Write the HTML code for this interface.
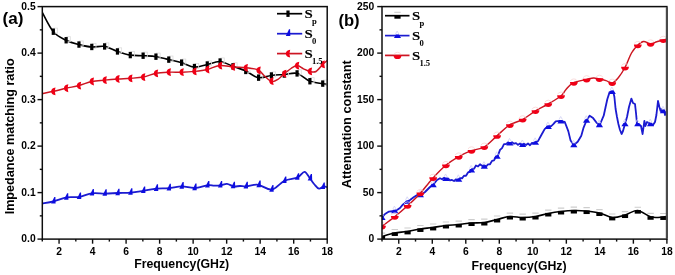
<!DOCTYPE html><html><head><meta charset="utf-8"><style>html,body{margin:0;padding:0;background:#fff;}svg{display:block;will-change:transform;}text{font-family:"Liberation Sans",sans-serif;font-weight:bold;fill:#000;}</style></head><body>
<svg width="675" height="275" viewBox="0 0 675 275">
<rect width="675" height="275" fill="#fff"/>
<defs><filter id="soft" x="-1%" y="-1%" width="102%" height="102%"><feGaussianBlur stdDeviation="0.3"/></filter></defs>
<defs><clipPath id="ca"><rect x="42.3" y="6.6" width="284.9" height="232.5"/></clipPath>
<clipPath id="cb"><rect x="382.0" y="6.6" width="284.9" height="232.5"/></clipPath></defs>
<g filter="url(#soft)">
<g><path d="M42.30 12.50 C44.13 15.70 49.27 27.03 53.30 31.70 C57.33 36.37 62.20 38.35 66.50 40.50 C70.80 42.65 74.85 43.52 79.10 44.60 C83.35 45.68 87.77 46.70 92.00 47.00 C96.23 47.30 100.23 45.65 104.50 46.40 C108.77 47.15 113.28 50.05 117.60 51.50 C121.92 52.95 126.13 54.40 130.40 55.10 C134.67 55.80 138.87 55.43 143.20 55.70 C147.53 55.97 152.15 56.05 156.40 56.70 C160.65 57.35 164.47 58.60 168.70 59.60 C172.93 60.60 177.53 61.45 181.80 62.70 C186.07 63.95 190.05 66.80 194.30 67.10 C198.55 67.40 203.02 65.43 207.30 64.50 C211.58 63.57 215.62 61.15 220.00 61.50 C224.38 61.85 229.35 65.05 233.60 66.60 C237.85 68.15 241.40 68.95 245.50 70.80 C249.60 72.65 253.90 76.92 258.20 77.70 C262.50 78.48 266.92 76.03 271.30 75.50 C275.68 74.97 280.17 74.85 284.50 74.50 C288.83 74.15 293.05 72.27 297.30 73.40 C301.55 74.53 305.77 79.60 310.00 81.30 C314.23 83.00 319.83 83.07 322.70 83.60 C325.57 84.13 326.45 84.35 327.20 84.50" fill="none" stroke="#000" stroke-width="1.60" stroke-linejoin="round" clip-path="url(#ca)"/><rect x="53.90" y="28.10" width="3.6" height="5.0" fill="none" stroke="#dcdcdc" stroke-width="0.8"/><rect x="66.73" y="36.65" width="3.6" height="5.0" fill="none" stroke="#dcdcdc" stroke-width="0.8"/><rect x="79.56" y="40.95" width="3.6" height="5.0" fill="none" stroke="#dcdcdc" stroke-width="0.8"/><rect x="92.39" y="43.36" width="3.6" height="5.0" fill="none" stroke="#dcdcdc" stroke-width="0.8"/><rect x="105.22" y="42.85" width="3.6" height="5.0" fill="none" stroke="#dcdcdc" stroke-width="0.8"/><rect x="118.05" y="47.84" width="3.6" height="5.0" fill="none" stroke="#dcdcdc" stroke-width="0.8"/><rect x="130.88" y="51.47" width="3.6" height="5.0" fill="none" stroke="#dcdcdc" stroke-width="0.8"/><rect x="143.71" y="52.10" width="3.6" height="5.0" fill="none" stroke="#dcdcdc" stroke-width="0.8"/><rect x="156.54" y="53.07" width="3.6" height="5.0" fill="none" stroke="#dcdcdc" stroke-width="0.8"/><rect x="169.37" y="56.02" width="3.6" height="5.0" fill="none" stroke="#dcdcdc" stroke-width="0.8"/><rect x="182.20" y="59.05" width="3.6" height="5.0" fill="none" stroke="#dcdcdc" stroke-width="0.8"/><rect x="195.03" y="63.47" width="3.6" height="5.0" fill="none" stroke="#dcdcdc" stroke-width="0.8"/><rect x="207.86" y="60.91" width="3.6" height="5.0" fill="none" stroke="#dcdcdc" stroke-width="0.8"/><rect x="220.69" y="57.93" width="3.6" height="5.0" fill="none" stroke="#dcdcdc" stroke-width="0.8"/><rect x="233.52" y="62.74" width="3.6" height="5.0" fill="none" stroke="#dcdcdc" stroke-width="0.8"/><rect x="246.35" y="67.34" width="3.6" height="5.0" fill="none" stroke="#dcdcdc" stroke-width="0.8"/><rect x="259.18" y="74.04" width="3.6" height="5.0" fill="none" stroke="#dcdcdc" stroke-width="0.8"/><rect x="272.01" y="71.89" width="3.6" height="5.0" fill="none" stroke="#dcdcdc" stroke-width="0.8"/><rect x="284.84" y="70.92" width="3.6" height="5.0" fill="none" stroke="#dcdcdc" stroke-width="0.8"/><rect x="297.67" y="69.82" width="3.6" height="5.0" fill="none" stroke="#dcdcdc" stroke-width="0.8"/><rect x="310.50" y="77.64" width="3.6" height="5.0" fill="none" stroke="#dcdcdc" stroke-width="0.8"/><rect x="323.33" y="80.01" width="3.6" height="5.0" fill="none" stroke="#dcdcdc" stroke-width="0.8"/><rect x="51.70" y="28.50" width="3.2" height="6.4" fill="#000"/><rect x="64.53" y="37.05" width="3.2" height="6.4" fill="#000"/><rect x="77.36" y="41.35" width="3.2" height="6.4" fill="#000"/><rect x="90.19" y="43.76" width="3.2" height="6.4" fill="#000"/><rect x="103.02" y="43.25" width="3.2" height="6.4" fill="#000"/><rect x="115.85" y="48.24" width="3.2" height="6.4" fill="#000"/><rect x="128.68" y="51.87" width="3.2" height="6.4" fill="#000"/><rect x="141.51" y="52.50" width="3.2" height="6.4" fill="#000"/><rect x="154.34" y="53.47" width="3.2" height="6.4" fill="#000"/><rect x="167.17" y="56.42" width="3.2" height="6.4" fill="#000"/><rect x="180.00" y="59.45" width="3.2" height="6.4" fill="#000"/><rect x="192.83" y="63.87" width="3.2" height="6.4" fill="#000"/><rect x="205.66" y="61.31" width="3.2" height="6.4" fill="#000"/><rect x="218.49" y="58.33" width="3.2" height="6.4" fill="#000"/><rect x="231.32" y="63.14" width="3.2" height="6.4" fill="#000"/><rect x="244.15" y="67.74" width="3.2" height="6.4" fill="#000"/><rect x="256.98" y="74.44" width="3.2" height="6.4" fill="#000"/><rect x="269.81" y="72.29" width="3.2" height="6.4" fill="#000"/><rect x="282.64" y="71.32" width="3.2" height="6.4" fill="#000"/><rect x="295.47" y="70.22" width="3.2" height="6.4" fill="#000"/><rect x="308.30" y="78.04" width="3.2" height="6.4" fill="#000"/><rect x="321.13" y="80.41" width="3.2" height="6.4" fill="#000"/><path d="M42.30 203.60 C44.18 203.22 49.50 202.35 53.60 201.30 C57.70 200.25 62.65 198.03 66.90 197.30 C71.15 196.57 74.88 197.57 79.10 196.90 C83.32 196.23 87.88 193.85 92.20 193.30 C96.52 192.75 100.70 193.65 105.00 193.60 C109.30 193.55 113.67 193.17 118.00 193.00 C122.33 192.83 126.75 192.97 131.00 192.60 C135.25 192.23 139.27 191.45 143.50 190.80 C147.73 190.15 152.20 189.13 156.40 188.70 C160.60 188.27 164.47 188.58 168.70 188.20 C172.93 187.82 177.50 186.43 181.80 186.40 C186.10 186.37 190.17 188.18 194.50 188.00 C198.83 187.82 204.55 185.70 207.80 185.30 C211.05 184.90 211.88 185.60 214.00 185.60 C216.12 185.60 218.33 185.60 220.50 185.30 C222.67 185.00 224.82 183.62 227.00 183.80 C229.18 183.98 231.43 186.03 233.60 186.40 C235.77 186.77 237.87 186.02 240.00 186.00 C242.13 185.98 243.37 186.50 246.40 186.30 C249.43 186.10 253.97 184.25 258.20 184.80 C262.43 185.35 267.42 190.28 271.80 189.60 C276.18 188.92 280.22 182.72 284.50 180.70 C288.78 178.68 294.17 178.98 297.50 177.50 C300.83 176.02 302.42 171.63 304.50 171.80 C306.58 171.97 308.33 176.38 310.00 178.50 C311.67 180.62 313.00 182.80 314.50 184.50 C316.00 186.20 317.48 188.38 319.00 188.70 C320.52 189.02 322.23 186.63 323.60 186.40 C324.97 186.17 326.60 187.15 327.20 187.30" fill="none" stroke="#1a1ad0" stroke-width="1.80" stroke-linejoin="round" clip-path="url(#ca)"/><path d="M54.30 196.96 L55.40 196.96 L55.60 203.56 L51.10 203.56 Z" fill="#1010e0"/><path d="M67.13 193.13 L68.23 193.13 L68.43 199.73 L63.93 199.73 Z" fill="#1010e0"/><path d="M79.96 192.50 L81.06 192.50 L81.26 199.10 L76.76 199.10 Z" fill="#1010e0"/><path d="M92.79 189.01 L93.89 189.01 L94.09 195.61 L89.59 195.61 Z" fill="#1010e0"/><path d="M105.62 189.19 L106.72 189.19 L106.92 195.79 L102.42 195.79 Z" fill="#1010e0"/><path d="M118.45 188.63 L119.55 188.63 L119.75 195.23 L115.25 195.23 Z" fill="#1010e0"/><path d="M131.28 188.22 L132.38 188.22 L132.58 194.82 L128.08 194.82 Z" fill="#1010e0"/><path d="M144.11 186.46 L145.21 186.46 L145.41 193.06 L140.91 193.06 Z" fill="#1010e0"/><path d="M156.94 184.37 L158.04 184.37 L158.24 190.97 L153.74 190.97 Z" fill="#1010e0"/><path d="M169.77 183.79 L170.87 183.79 L171.07 190.39 L166.57 190.39 Z" fill="#1010e0"/><path d="M182.60 182.03 L183.70 182.03 L183.90 188.63 L179.40 188.63 Z" fill="#1010e0"/><path d="M195.43 183.59 L196.53 183.59 L196.73 190.19 L192.23 190.19 Z" fill="#1010e0"/><path d="M208.26 181.01 L209.36 181.01 L209.56 187.61 L205.06 187.61 Z" fill="#1010e0"/><path d="M221.09 180.92 L222.19 180.92 L222.39 187.52 L217.89 187.52 Z" fill="#1010e0"/><path d="M233.92 181.73 L235.02 181.73 L235.22 188.33 L230.72 188.33 Z" fill="#1010e0"/><path d="M246.75 181.87 L247.85 181.87 L248.05 188.47 L243.55 188.47 Z" fill="#1010e0"/><path d="M259.58 180.53 L260.68 180.53 L260.88 187.13 L256.38 187.13 Z" fill="#1010e0"/><path d="M272.41 185.06 L273.51 185.06 L273.71 191.66 L269.21 191.66 Z" fill="#1010e0"/><path d="M285.24 176.48 L286.34 176.48 L286.54 183.08 L282.04 183.08 Z" fill="#1010e0"/><path d="M298.07 173.21 L299.17 173.21 L299.37 179.81 L294.87 179.81 Z" fill="#1010e0"/><path d="M310.90 173.98 L312.00 173.98 L312.20 180.58 L307.70 180.58 Z" fill="#1010e0"/><path d="M323.73 182.44 L324.83 182.44 L325.03 189.03 L320.53 189.03 Z" fill="#1010e0"/><path d="M42.30 93.60 C44.18 93.22 49.58 92.20 53.60 91.30 C57.62 90.40 62.15 89.17 66.40 88.20 C70.65 87.23 74.87 86.62 79.10 85.50 C83.33 84.38 87.57 82.40 91.80 81.50 C96.03 80.60 100.20 80.52 104.50 80.10 C108.80 79.68 113.28 79.30 117.60 79.00 C121.92 78.70 126.10 78.63 130.40 78.30 C134.70 77.97 139.13 77.83 143.40 77.00 C147.67 76.17 151.78 74.10 156.00 73.30 C160.22 72.50 164.40 72.38 168.70 72.20 C173.00 72.02 177.53 72.33 181.80 72.20 C186.07 72.07 190.05 71.85 194.30 71.40 C198.55 70.95 203.10 70.48 207.30 69.50 C211.50 68.52 215.12 65.92 219.50 65.50 C223.88 65.08 229.18 66.62 233.60 67.00 C238.02 67.38 241.90 67.30 246.00 67.80 C250.10 68.30 255.03 68.55 258.20 70.00 C261.37 71.45 262.70 74.57 265.00 76.50 C267.30 78.43 269.75 81.18 272.00 81.60 C274.25 82.02 276.42 80.35 278.50 79.00 C280.58 77.65 282.42 75.25 284.50 73.50 C286.58 71.75 288.87 69.83 291.00 68.50 C293.13 67.17 295.22 65.45 297.30 65.50 C299.38 65.55 301.38 67.80 303.50 68.80 C305.62 69.80 307.92 71.05 310.00 71.50 C312.08 71.95 313.88 72.67 316.00 71.50 C318.12 70.33 320.83 66.33 322.70 64.50 C324.57 62.67 326.45 61.17 327.20 60.50" fill="none" stroke="#cc1420" stroke-width="1.45" stroke-linejoin="round" clip-path="url(#ca)"/><path d="M55.50 87.46 C49.70 87.96 49.70 94.76 55.50 95.26 Q54.00 91.36 55.50 87.46 Z" fill="#f00018"/><path d="M68.33 84.37 C62.53 84.87 62.53 91.67 68.33 92.17 Q66.83 88.27 68.33 84.37 Z" fill="#f00018"/><path d="M81.16 81.63 C75.36 82.13 75.36 88.93 81.16 89.43 Q79.66 85.53 81.16 81.63 Z" fill="#f00018"/><path d="M93.99 77.60 C88.19 78.10 88.19 84.90 93.99 85.40 Q92.49 81.50 93.99 77.60 Z" fill="#f00018"/><path d="M106.82 76.19 C101.02 76.69 101.02 83.49 106.82 83.99 Q105.32 80.09 106.82 76.19 Z" fill="#f00018"/><path d="M119.65 75.11 C113.85 75.61 113.85 82.41 119.65 82.91 Q118.15 79.01 119.65 75.11 Z" fill="#f00018"/><path d="M132.48 74.41 C126.68 74.91 126.68 81.71 132.48 82.21 Q130.98 78.31 132.48 74.41 Z" fill="#f00018"/><path d="M145.31 73.13 C139.51 73.63 139.51 80.43 145.31 80.93 Q143.81 77.03 145.31 73.13 Z" fill="#f00018"/><path d="M158.14 69.42 C152.34 69.92 152.34 76.72 158.14 77.22 Q156.64 73.32 158.14 69.42 Z" fill="#f00018"/><path d="M170.97 68.30 C165.17 68.80 165.17 75.60 170.97 76.10 Q169.47 72.20 170.97 68.30 Z" fill="#f00018"/><path d="M183.80 68.30 C178.00 68.80 178.00 75.60 183.80 76.10 Q182.30 72.20 183.80 68.30 Z" fill="#f00018"/><path d="M196.63 67.48 C190.83 67.98 190.83 74.78 196.63 75.28 Q195.13 71.38 196.63 67.48 Z" fill="#f00018"/><path d="M209.46 65.61 C203.66 66.11 203.66 72.91 209.46 73.41 Q207.96 69.51 209.46 65.61 Z" fill="#f00018"/><path d="M222.29 61.66 C216.49 62.16 216.49 68.96 222.29 69.46 Q220.79 65.56 222.29 61.66 Z" fill="#f00018"/><path d="M235.12 63.03 C229.32 63.53 229.32 70.33 235.12 70.83 Q233.62 66.93 235.12 63.03 Z" fill="#f00018"/><path d="M247.95 63.88 C242.15 64.38 242.15 71.18 247.95 71.68 Q246.45 67.78 247.95 63.88 Z" fill="#f00018"/><path d="M260.78 66.46 C254.98 66.96 254.98 73.76 260.78 74.26 Q259.28 70.36 260.78 66.46 Z" fill="#f00018"/><path d="M273.61 77.27 C267.81 77.77 267.81 84.57 273.61 85.07 Q272.11 81.17 273.61 77.27 Z" fill="#f00018"/><path d="M286.44 69.84 C280.64 70.34 280.64 77.14 286.44 77.64 Q284.94 73.74 286.44 69.84 Z" fill="#f00018"/><path d="M299.27 61.71 C293.47 62.21 293.47 69.01 299.27 69.51 Q297.77 65.61 299.27 61.71 Z" fill="#f00018"/><path d="M312.10 67.56 C306.30 68.06 306.30 74.86 312.10 75.36 Q310.60 71.46 312.10 67.56 Z" fill="#f00018"/><path d="M324.93 60.57 C319.13 61.07 319.13 67.87 324.93 68.37 Q323.43 64.47 324.93 60.57 Z" fill="#f00018"/></g>
<g clip-path="url(#cb)"><path d="M382.00 236.50 C384.07 235.92 390.23 233.83 394.40 233.00 C398.57 232.17 402.73 232.17 407.00 231.50 C411.27 230.83 415.72 229.67 420.00 229.00 C424.28 228.33 428.45 228.08 432.70 227.50 C436.95 226.92 441.18 226.00 445.50 225.50 C449.82 225.00 454.27 224.92 458.60 224.50 C462.93 224.08 467.20 223.33 471.50 223.00 C475.80 222.67 480.15 223.08 484.40 222.50 C488.65 221.92 492.77 220.50 497.00 219.50 C501.23 218.50 505.52 216.83 509.80 216.50 C514.08 216.17 518.42 217.50 522.70 217.50 C526.98 217.50 531.25 217.17 535.50 216.50 C539.75 215.83 543.98 214.33 548.20 213.50 C552.42 212.67 556.50 212.00 560.80 211.50 C565.10 211.00 569.73 210.58 574.00 210.50 C578.27 210.42 582.15 210.58 586.40 211.00 C590.65 211.42 595.15 211.92 599.50 213.00 C603.85 214.08 608.23 217.17 612.50 217.50 C616.77 217.83 620.93 216.17 625.10 215.00 C629.27 213.83 633.17 210.17 637.50 210.50 C641.83 210.83 646.83 215.92 651.10 217.00 C655.37 218.08 660.47 217.08 663.10 217.00 C665.73 216.92 666.27 216.58 666.90 216.50" fill="none" stroke="#000" stroke-width="1.60" stroke-linejoin="round" clip-path="url(#cb)"/><line x1="378.80" y1="233.10" x2="385.20" y2="233.10" stroke="#cdcdcd" stroke-width="1.1"/><rect x="378.90" y="235.90" width="6.2" height="3.6" fill="#000"/><line x1="391.59" y1="229.55" x2="397.99" y2="229.55" stroke="#cdcdcd" stroke-width="1.1"/><rect x="391.69" y="232.35" width="6.2" height="3.6" fill="#000"/><line x1="404.38" y1="227.99" x2="410.78" y2="227.99" stroke="#cdcdcd" stroke-width="1.1"/><rect x="404.48" y="230.79" width="6.2" height="3.6" fill="#000"/><line x1="417.17" y1="225.56" x2="423.57" y2="225.56" stroke="#cdcdcd" stroke-width="1.1"/><rect x="417.27" y="228.36" width="6.2" height="3.6" fill="#000"/><line x1="429.96" y1="224.03" x2="436.36" y2="224.03" stroke="#cdcdcd" stroke-width="1.1"/><rect x="430.06" y="226.83" width="6.2" height="3.6" fill="#000"/><line x1="442.75" y1="222.07" x2="449.15" y2="222.07" stroke="#cdcdcd" stroke-width="1.1"/><rect x="442.85" y="224.87" width="6.2" height="3.6" fill="#000"/><line x1="455.54" y1="221.08" x2="461.94" y2="221.08" stroke="#cdcdcd" stroke-width="1.1"/><rect x="455.64" y="223.88" width="6.2" height="3.6" fill="#000"/><line x1="468.33" y1="219.60" x2="474.73" y2="219.60" stroke="#cdcdcd" stroke-width="1.1"/><rect x="468.43" y="222.40" width="6.2" height="3.6" fill="#000"/><line x1="481.12" y1="219.10" x2="487.52" y2="219.10" stroke="#cdcdcd" stroke-width="1.1"/><rect x="481.22" y="221.90" width="6.2" height="3.6" fill="#000"/><line x1="493.91" y1="216.07" x2="500.31" y2="216.07" stroke="#cdcdcd" stroke-width="1.1"/><rect x="494.01" y="218.87" width="6.2" height="3.6" fill="#000"/><line x1="506.70" y1="213.11" x2="513.10" y2="213.11" stroke="#cdcdcd" stroke-width="1.1"/><rect x="506.80" y="215.91" width="6.2" height="3.6" fill="#000"/><line x1="519.49" y1="214.10" x2="525.89" y2="214.10" stroke="#cdcdcd" stroke-width="1.1"/><rect x="519.59" y="216.90" width="6.2" height="3.6" fill="#000"/><line x1="532.28" y1="213.10" x2="538.68" y2="213.10" stroke="#cdcdcd" stroke-width="1.1"/><rect x="532.38" y="215.90" width="6.2" height="3.6" fill="#000"/><line x1="545.07" y1="210.09" x2="551.47" y2="210.09" stroke="#cdcdcd" stroke-width="1.1"/><rect x="545.17" y="212.89" width="6.2" height="3.6" fill="#000"/><line x1="557.86" y1="208.08" x2="564.26" y2="208.08" stroke="#cdcdcd" stroke-width="1.1"/><rect x="557.96" y="210.88" width="6.2" height="3.6" fill="#000"/><line x1="570.65" y1="207.11" x2="577.05" y2="207.11" stroke="#cdcdcd" stroke-width="1.1"/><rect x="570.75" y="209.91" width="6.2" height="3.6" fill="#000"/><line x1="583.44" y1="207.64" x2="589.84" y2="207.64" stroke="#cdcdcd" stroke-width="1.1"/><rect x="583.54" y="210.44" width="6.2" height="3.6" fill="#000"/><line x1="596.23" y1="209.59" x2="602.63" y2="209.59" stroke="#cdcdcd" stroke-width="1.1"/><rect x="596.33" y="212.39" width="6.2" height="3.6" fill="#000"/><line x1="609.02" y1="214.00" x2="615.42" y2="214.00" stroke="#cdcdcd" stroke-width="1.1"/><rect x="609.12" y="216.80" width="6.2" height="3.6" fill="#000"/><line x1="621.81" y1="211.62" x2="628.21" y2="211.62" stroke="#cdcdcd" stroke-width="1.1"/><rect x="621.91" y="214.42" width="6.2" height="3.6" fill="#000"/><line x1="634.60" y1="207.24" x2="641.00" y2="207.24" stroke="#cdcdcd" stroke-width="1.1"/><rect x="634.70" y="210.04" width="6.2" height="3.6" fill="#000"/><line x1="647.39" y1="213.36" x2="653.79" y2="213.36" stroke="#cdcdcd" stroke-width="1.1"/><rect x="647.49" y="216.16" width="6.2" height="3.6" fill="#000"/><line x1="660.18" y1="213.56" x2="666.58" y2="213.56" stroke="#cdcdcd" stroke-width="1.1"/><rect x="660.28" y="216.36" width="6.2" height="3.6" fill="#000"/><path d="M382.00 217.50 L385.00 214.00 L389.00 211.60 L394.00 211.00 L397.00 210.00 L400.00 208.00 L403.00 204.40 L406.50 202.00 L410.00 200.00 L414.00 197.00 L418.00 194.40 L421.00 195.00 L425.00 192.00 L430.00 187.00 L433.00 185.00 L437.00 180.00 L440.00 178.25 L442.00 179.24 L444.00 177.83 L446.00 179.35 L448.00 178.46 L450.00 180.43 L452.00 179.96 L454.00 181.06 L456.00 179.30 L458.00 180.28 L460.00 177.83 L462.00 178.35 L464.00 175.70 L466.00 175.79 L468.00 172.47 L470.00 171.99 L472.00 168.87 L474.00 168.74 L476.00 165.51 L478.00 166.46 L480.00 164.28 L482.00 165.82 L484.00 165.28 L486.00 166.54 L488.00 164.46 L490.00 164.25 L492.00 160.85 L494.00 160.41 L496.00 156.90 L498.00 155.51 L500.00 149.90 L502.00 148.05 L504.00 144.14 L506.00 144.13 L508.00 142.30 L510.00 143.88 L512.00 142.14 L514.00 143.68 L516.00 143.07 L518.00 144.82 L520.00 143.50 L522.00 145.27 L524.00 143.72 L526.00 144.99 L528.00 143.48 L530.00 145.22 L532.00 142.82 L534.00 143.34 L536.00 141.56 L538.00 141.07 L541.90 134.00 L544.80 128.90 L547.70 126.70 L551.40 126.00 L553.50 123.80 L555.70 121.30 L560.10 120.90 L564.70 121.80 L568.30 131.10 L570.60 140.60 L573.70 145.00 L577.70 141.70 L581.30 135.80 L583.60 127.60 L586.50 120.50 L589.60 115.70 L593.10 118.10 L596.60 122.80 L599.70 125.00 L603.70 115.70 L607.30 99.20 L609.60 92.10 L613.20 91.40 L614.40 97.00 L615.60 109.00 L617.00 117.00 L618.40 124.00 L620.00 130.00 L621.60 134.00 L623.00 131.00 L625.00 124.00 L627.00 117.00 L629.00 107.00 L631.40 98.60 L633.00 103.00 L635.00 104.00 L636.00 113.00 L637.00 123.50 L639.00 124.50 L641.00 126.00 L642.60 134.00 L643.40 128.00 L644.40 121.00 L645.40 126.00 L647.00 122.00 L649.00 123.00 L651.00 124.00 L653.00 125.00 L655.00 122.00 L656.40 115.00 L658.00 101.00 L659.40 107.00 L660.60 111.00 L661.40 109.00 L662.60 112.00 L664.00 110.00 L665.00 115.00 L666.90 113.00" fill="none" stroke="#1a1ad0" stroke-width="1.80" stroke-linejoin="round" clip-path="url(#cb)"/><path d="M380.00 216.00 L381.60 212.90 L383.40 216.00" fill="none" stroke="#d0d0f4" stroke-width="0.8"/><path d="M378.40 219.90 L380.40 216.50 L383.40 216.50 L385.60 219.90 Z" fill="#1010e0"/><path d="M392.79 209.24 L394.39 206.14 L396.19 209.24" fill="none" stroke="#d0d0f4" stroke-width="0.8"/><path d="M391.19 213.14 L393.19 209.74 L396.19 209.74 L398.39 213.14 Z" fill="#1010e0"/><path d="M405.58 199.88 L407.18 196.78 L408.98 199.88" fill="none" stroke="#d0d0f4" stroke-width="0.8"/><path d="M403.98 203.78 L405.98 200.38 L408.98 200.38 L411.18 203.78 Z" fill="#1010e0"/><path d="M418.37 193.37 L419.97 190.27 L421.77 193.37" fill="none" stroke="#d0d0f4" stroke-width="0.8"/><path d="M416.77 197.27 L418.77 193.87 L421.77 193.87 L423.97 197.27 Z" fill="#1010e0"/><path d="M431.16 183.30 L432.76 180.20 L434.56 183.30" fill="none" stroke="#d0d0f4" stroke-width="0.8"/><path d="M429.56 187.20 L431.56 183.80 L434.56 183.80 L436.76 187.20 Z" fill="#1010e0"/><path d="M443.95 177.08 L445.55 173.98 L447.35 177.08" fill="none" stroke="#d0d0f4" stroke-width="0.8"/><path d="M442.35 180.98 L444.35 177.58 L447.35 177.58 L449.55 180.98 Z" fill="#1010e0"/><path d="M456.74 177.91 L458.34 174.81 L460.14 177.91" fill="none" stroke="#d0d0f4" stroke-width="0.8"/><path d="M455.14 181.81 L457.14 178.41 L460.14 178.41 L462.34 181.81 Z" fill="#1010e0"/><path d="M469.53 168.55 L471.13 165.45 L472.93 168.55" fill="none" stroke="#d0d0f4" stroke-width="0.8"/><path d="M467.93 172.45 L469.93 169.05 L472.93 169.05 L475.13 172.45 Z" fill="#1010e0"/><path d="M482.32 164.73 L483.92 161.63 L485.72 164.73" fill="none" stroke="#d0d0f4" stroke-width="0.8"/><path d="M480.72 168.63 L482.72 165.23 L485.72 165.23 L487.92 168.63 Z" fill="#1010e0"/><path d="M495.11 154.89 L496.71 151.79 L498.51 154.89" fill="none" stroke="#d0d0f4" stroke-width="0.8"/><path d="M493.51 158.79 L495.51 155.39 L498.51 155.39 L500.71 158.79 Z" fill="#1010e0"/><path d="M507.90 141.50 L509.50 138.40 L511.30 141.50" fill="none" stroke="#d0d0f4" stroke-width="0.8"/><path d="M506.30 145.40 L508.30 142.00 L511.30 142.00 L513.50 145.40 Z" fill="#1010e0"/><path d="M520.69 143.07 L522.29 139.97 L524.09 143.07" fill="none" stroke="#d0d0f4" stroke-width="0.8"/><path d="M519.09 146.97 L521.09 143.57 L524.09 143.57 L526.29 146.97 Z" fill="#1010e0"/><path d="M533.48 140.89 L535.08 137.79 L536.88 140.89" fill="none" stroke="#d0d0f4" stroke-width="0.8"/><path d="M531.88 144.79 L533.88 141.39 L536.88 141.39 L539.08 144.79 Z" fill="#1010e0"/><path d="M546.27 125.09 L547.87 121.99 L549.67 125.09" fill="none" stroke="#d0d0f4" stroke-width="0.8"/><path d="M544.67 128.99 L546.67 125.59 L549.67 125.59 L551.87 128.99 Z" fill="#1010e0"/><path d="M559.06 119.59 L560.66 116.49 L562.46 119.59" fill="none" stroke="#d0d0f4" stroke-width="0.8"/><path d="M557.46 123.49 L559.46 120.09 L562.46 120.09 L564.66 123.49 Z" fill="#1010e0"/><path d="M571.85 143.38 L573.45 140.28 L575.25 143.38" fill="none" stroke="#d0d0f4" stroke-width="0.8"/><path d="M570.25 147.28 L572.25 143.88 L575.25 143.88 L577.45 147.28 Z" fill="#1010e0"/><path d="M584.64 118.78 L586.24 115.68 L588.04 118.78" fill="none" stroke="#d0d0f4" stroke-width="0.8"/><path d="M583.04 122.68 L585.04 119.28 L588.04 119.28 L590.24 122.68 Z" fill="#1010e0"/><path d="M597.43 123.31 L599.03 120.21 L600.83 123.31" fill="none" stroke="#d0d0f4" stroke-width="0.8"/><path d="M595.83 127.21 L597.83 123.81 L600.83 123.81 L603.03 127.21 Z" fill="#1010e0"/><path d="M610.22 90.09 L611.82 86.99 L613.62 90.09" fill="none" stroke="#d0d0f4" stroke-width="0.8"/><path d="M608.62 93.99 L610.62 90.59 L613.62 90.59 L615.82 93.99 Z" fill="#1010e0"/><path d="M623.01 122.47 L624.61 119.37 L626.41 122.47" fill="none" stroke="#d0d0f4" stroke-width="0.8"/><path d="M621.41 126.37 L623.41 122.97 L626.41 122.97 L628.61 126.37 Z" fill="#1010e0"/><path d="M635.80 122.40 L637.40 119.30 L639.20 122.40" fill="none" stroke="#d0d0f4" stroke-width="0.8"/><path d="M634.20 126.30 L636.20 122.90 L639.20 122.90 L641.40 126.30 Z" fill="#1010e0"/><path d="M648.59 122.29 L650.19 119.19 L651.99 122.29" fill="none" stroke="#d0d0f4" stroke-width="0.8"/><path d="M646.99 126.19 L648.99 122.79 L651.99 122.79 L654.19 126.19 Z" fill="#1010e0"/><path d="M661.38 109.39 L662.98 106.29 L664.78 109.39" fill="none" stroke="#d0d0f4" stroke-width="0.8"/><path d="M659.78 113.29 L661.78 109.89 L664.78 109.89 L666.98 113.29 Z" fill="#1010e0"/><path d="M382.00 226.30 C384.05 224.75 390.13 220.35 394.30 217.00 C398.47 213.65 402.80 210.00 407.00 206.20 C411.20 202.40 415.30 198.75 419.50 194.20 C423.70 189.65 427.82 183.72 432.20 178.90 C436.58 174.08 441.37 169.02 445.80 165.30 C450.23 161.58 454.55 159.05 458.80 156.60 C463.05 154.15 467.10 152.18 471.30 150.60 C475.50 149.02 479.77 149.52 484.00 147.10 C488.23 144.68 492.47 139.78 496.70 136.10 C500.93 132.42 505.10 127.75 509.40 125.00 C513.70 122.25 518.15 121.95 522.50 119.60 C526.85 117.25 531.22 113.50 535.50 110.90 C539.78 108.30 543.97 106.48 548.20 104.00 C552.43 101.52 557.93 98.42 560.90 96.00 C563.87 93.58 563.95 91.70 566.00 89.50 C568.05 87.30 569.75 84.48 573.20 82.80 C576.65 81.12 583.32 80.20 586.70 79.40 C590.08 78.60 591.32 78.07 593.50 78.00 C595.68 77.93 597.72 78.57 599.80 79.00 C601.88 79.43 603.93 79.95 606.00 80.60 C608.07 81.25 610.12 83.42 612.20 82.90 C614.28 82.38 616.33 80.15 618.50 77.50 C620.67 74.85 623.03 71.08 625.20 67.00 C627.37 62.92 629.42 56.63 631.50 53.00 C633.58 49.37 635.70 47.12 637.70 45.20 C639.70 43.28 641.37 41.77 643.50 41.50 C645.63 41.23 648.28 43.55 650.50 43.60 C652.72 43.65 654.68 42.40 656.80 41.80 C658.92 41.20 661.52 40.45 663.20 40.00 C664.88 39.55 666.28 39.25 666.90 39.10" fill="none" stroke="#cc1420" stroke-width="1.45" stroke-linejoin="round" clip-path="url(#cb)"/><path d="M378.60 224.70 A3.6 3.2 0 0 1 385.40 224.70" fill="none" stroke="#f8d4d4" stroke-width="0.8"/><path d="M378.10 225.70 A3.9 3.7 0 0 0 385.90 225.70 Z" fill="#f00018"/><path d="M391.39 214.98 A3.6 3.2 0 0 1 398.19 214.98" fill="none" stroke="#f8d4d4" stroke-width="0.8"/><path d="M390.89 215.98 A3.9 3.7 0 0 0 398.69 215.98 Z" fill="#f00018"/><path d="M404.18 204.04 A3.6 3.2 0 0 1 410.98 204.04" fill="none" stroke="#f8d4d4" stroke-width="0.8"/><path d="M403.68 205.04 A3.9 3.7 0 0 0 411.48 205.04 Z" fill="#f00018"/><path d="M416.97 191.55 A3.6 3.2 0 0 1 423.77 191.55" fill="none" stroke="#f8d4d4" stroke-width="0.8"/><path d="M416.47 192.55 A3.9 3.7 0 0 0 424.27 192.55 Z" fill="#f00018"/><path d="M429.76 176.34 A3.6 3.2 0 0 1 436.56 176.34" fill="none" stroke="#f8d4d4" stroke-width="0.8"/><path d="M429.26 177.34 A3.9 3.7 0 0 0 437.06 177.34 Z" fill="#f00018"/><path d="M442.55 163.60 A3.6 3.2 0 0 1 449.35 163.60" fill="none" stroke="#f8d4d4" stroke-width="0.8"/><path d="M442.05 164.60 A3.9 3.7 0 0 0 449.85 164.60 Z" fill="#f00018"/><path d="M455.34 155.04 A3.6 3.2 0 0 1 462.14 155.04" fill="none" stroke="#f8d4d4" stroke-width="0.8"/><path d="M454.84 156.04 A3.9 3.7 0 0 0 462.64 156.04 Z" fill="#f00018"/><path d="M468.13 148.94 A3.6 3.2 0 0 1 474.93 148.94" fill="none" stroke="#f8d4d4" stroke-width="0.8"/><path d="M467.63 149.94 A3.9 3.7 0 0 0 475.43 149.94 Z" fill="#f00018"/><path d="M480.92 145.22 A3.6 3.2 0 0 1 487.72 145.22" fill="none" stroke="#f8d4d4" stroke-width="0.8"/><path d="M480.42 146.22 A3.9 3.7 0 0 0 488.22 146.22 Z" fill="#f00018"/><path d="M493.71 134.14 A3.6 3.2 0 0 1 500.51 134.14" fill="none" stroke="#f8d4d4" stroke-width="0.8"/><path d="M493.21 135.14 A3.9 3.7 0 0 0 501.01 135.14 Z" fill="#f00018"/><path d="M506.50 123.19 A3.6 3.2 0 0 1 513.30 123.19" fill="none" stroke="#f8d4d4" stroke-width="0.8"/><path d="M506.00 124.19 A3.9 3.7 0 0 0 513.80 124.19 Z" fill="#f00018"/><path d="M519.29 117.87 A3.6 3.2 0 0 1 526.09 117.87" fill="none" stroke="#f8d4d4" stroke-width="0.8"/><path d="M518.79 118.87 A3.9 3.7 0 0 0 526.59 118.87 Z" fill="#f00018"/><path d="M532.08 109.31 A3.6 3.2 0 0 1 538.88 109.31" fill="none" stroke="#f8d4d4" stroke-width="0.8"/><path d="M531.58 110.31 A3.9 3.7 0 0 0 539.38 110.31 Z" fill="#f00018"/><path d="M544.87 102.36 A3.6 3.2 0 0 1 551.67 102.36" fill="none" stroke="#f8d4d4" stroke-width="0.8"/><path d="M544.37 103.36 A3.9 3.7 0 0 0 552.17 103.36 Z" fill="#f00018"/><path d="M557.66 94.20 A3.6 3.2 0 0 1 564.46 94.20" fill="none" stroke="#f8d4d4" stroke-width="0.8"/><path d="M557.16 95.20 A3.9 3.7 0 0 0 564.96 95.20 Z" fill="#f00018"/><path d="M570.45 81.04 A3.6 3.2 0 0 1 577.25 81.04" fill="none" stroke="#f8d4d4" stroke-width="0.8"/><path d="M569.95 82.04 A3.9 3.7 0 0 0 577.75 82.04 Z" fill="#f00018"/><path d="M583.24 77.82 A3.6 3.2 0 0 1 590.04 77.82" fill="none" stroke="#f8d4d4" stroke-width="0.8"/><path d="M582.74 78.82 A3.9 3.7 0 0 0 590.54 78.82 Z" fill="#f00018"/><path d="M596.03 77.34 A3.6 3.2 0 0 1 602.83 77.34" fill="none" stroke="#f8d4d4" stroke-width="0.8"/><path d="M595.53 78.34 A3.9 3.7 0 0 0 603.33 78.34 Z" fill="#f00018"/><path d="M608.82 81.28 A3.6 3.2 0 0 1 615.62 81.28" fill="none" stroke="#f8d4d4" stroke-width="0.8"/><path d="M608.32 82.28 A3.9 3.7 0 0 0 616.12 82.28 Z" fill="#f00018"/><path d="M621.61 65.70 A3.6 3.2 0 0 1 628.41 65.70" fill="none" stroke="#f8d4d4" stroke-width="0.8"/><path d="M621.11 66.70 A3.9 3.7 0 0 0 628.91 66.70 Z" fill="#f00018"/><path d="M634.40 43.54 A3.6 3.2 0 0 1 641.20 43.54" fill="none" stroke="#f8d4d4" stroke-width="0.8"/><path d="M633.90 44.54 A3.9 3.7 0 0 0 641.70 44.54 Z" fill="#f00018"/><path d="M647.19 41.97 A3.6 3.2 0 0 1 653.99 41.97" fill="none" stroke="#f8d4d4" stroke-width="0.8"/><path d="M646.69 42.97 A3.9 3.7 0 0 0 654.49 42.97 Z" fill="#f00018"/><path d="M659.98 38.36 A3.6 3.2 0 0 1 666.78 38.36" fill="none" stroke="#f8d4d4" stroke-width="0.8"/><path d="M659.48 39.36 A3.9 3.7 0 0 0 667.28 39.36 Z" fill="#f00018"/></g>
<rect x="42.30" y="6.60" width="284.90" height="232.50" fill="none" stroke="#111" stroke-width="1.5"/><line x1="42.30" y1="239.10" x2="42.30" y2="241.60" stroke="#111" stroke-width="1.4"/><line x1="59.06" y1="239.10" x2="59.06" y2="243.70" stroke="#111" stroke-width="1.4"/><text x="59.06" y="255.00" font-size="10.3" text-anchor="middle">2</text><line x1="75.82" y1="239.10" x2="75.82" y2="241.60" stroke="#111" stroke-width="1.4"/><line x1="92.58" y1="239.10" x2="92.58" y2="243.70" stroke="#111" stroke-width="1.4"/><text x="92.58" y="255.00" font-size="10.3" text-anchor="middle">4</text><line x1="109.34" y1="239.10" x2="109.34" y2="241.60" stroke="#111" stroke-width="1.4"/><line x1="126.09" y1="239.10" x2="126.09" y2="243.70" stroke="#111" stroke-width="1.4"/><text x="126.09" y="255.00" font-size="10.3" text-anchor="middle">6</text><line x1="142.85" y1="239.10" x2="142.85" y2="241.60" stroke="#111" stroke-width="1.4"/><line x1="159.61" y1="239.10" x2="159.61" y2="243.70" stroke="#111" stroke-width="1.4"/><text x="159.61" y="255.00" font-size="10.3" text-anchor="middle">8</text><line x1="176.37" y1="239.10" x2="176.37" y2="241.60" stroke="#111" stroke-width="1.4"/><line x1="193.13" y1="239.10" x2="193.13" y2="243.70" stroke="#111" stroke-width="1.4"/><text x="193.13" y="255.00" font-size="10.3" text-anchor="middle">10</text><line x1="209.89" y1="239.10" x2="209.89" y2="241.60" stroke="#111" stroke-width="1.4"/><line x1="226.65" y1="239.10" x2="226.65" y2="243.70" stroke="#111" stroke-width="1.4"/><text x="226.65" y="255.00" font-size="10.3" text-anchor="middle">12</text><line x1="243.41" y1="239.10" x2="243.41" y2="241.60" stroke="#111" stroke-width="1.4"/><line x1="260.16" y1="239.10" x2="260.16" y2="243.70" stroke="#111" stroke-width="1.4"/><text x="260.16" y="255.00" font-size="10.3" text-anchor="middle">14</text><line x1="276.92" y1="239.10" x2="276.92" y2="241.60" stroke="#111" stroke-width="1.4"/><line x1="293.68" y1="239.10" x2="293.68" y2="243.70" stroke="#111" stroke-width="1.4"/><text x="293.68" y="255.00" font-size="10.3" text-anchor="middle">16</text><line x1="310.44" y1="239.10" x2="310.44" y2="241.60" stroke="#111" stroke-width="1.4"/><line x1="327.20" y1="239.10" x2="327.20" y2="243.70" stroke="#111" stroke-width="1.4"/><text x="327.20" y="255.00" font-size="10.3" text-anchor="middle">18</text><line x1="37.50" y1="239.10" x2="42.30" y2="239.10" stroke="#111" stroke-width="1.4"/><text x="35.70" y="242.40" font-size="10.3" text-anchor="end">0.0</text><line x1="39.80" y1="215.85" x2="42.30" y2="215.85" stroke="#111" stroke-width="1.4"/><line x1="37.50" y1="192.60" x2="42.30" y2="192.60" stroke="#111" stroke-width="1.4"/><text x="35.70" y="195.90" font-size="10.3" text-anchor="end">0.1</text><line x1="39.80" y1="169.35" x2="42.30" y2="169.35" stroke="#111" stroke-width="1.4"/><line x1="37.50" y1="146.10" x2="42.30" y2="146.10" stroke="#111" stroke-width="1.4"/><text x="35.70" y="149.40" font-size="10.3" text-anchor="end">0.2</text><line x1="39.80" y1="122.85" x2="42.30" y2="122.85" stroke="#111" stroke-width="1.4"/><line x1="37.50" y1="99.60" x2="42.30" y2="99.60" stroke="#111" stroke-width="1.4"/><text x="35.70" y="102.90" font-size="10.3" text-anchor="end">0.3</text><line x1="39.80" y1="76.35" x2="42.30" y2="76.35" stroke="#111" stroke-width="1.4"/><line x1="37.50" y1="53.10" x2="42.30" y2="53.10" stroke="#111" stroke-width="1.4"/><text x="35.70" y="56.40" font-size="10.3" text-anchor="end">0.4</text><line x1="39.80" y1="29.85" x2="42.30" y2="29.85" stroke="#111" stroke-width="1.4"/><line x1="37.50" y1="6.60" x2="42.30" y2="6.60" stroke="#111" stroke-width="1.4"/><text x="35.70" y="9.90" font-size="10.3" text-anchor="end">0.5</text><text transform="translate(14.00 136.30) rotate(-90)" font-size="12.60" text-anchor="middle">Impedance matching ratio</text><text x="2.60" y="24.20" font-size="17.10">(a)</text>
<rect x="382.00" y="6.60" width="284.90" height="232.50" fill="none" stroke="#111" stroke-width="1.5"/><line x1="382.00" y1="239.10" x2="382.00" y2="241.60" stroke="#111" stroke-width="1.4"/><line x1="398.76" y1="239.10" x2="398.76" y2="243.70" stroke="#111" stroke-width="1.4"/><text x="398.76" y="255.00" font-size="10.3" text-anchor="middle">2</text><line x1="415.52" y1="239.10" x2="415.52" y2="241.60" stroke="#111" stroke-width="1.4"/><line x1="432.28" y1="239.10" x2="432.28" y2="243.70" stroke="#111" stroke-width="1.4"/><text x="432.28" y="255.00" font-size="10.3" text-anchor="middle">4</text><line x1="449.04" y1="239.10" x2="449.04" y2="241.60" stroke="#111" stroke-width="1.4"/><line x1="465.79" y1="239.10" x2="465.79" y2="243.70" stroke="#111" stroke-width="1.4"/><text x="465.79" y="255.00" font-size="10.3" text-anchor="middle">6</text><line x1="482.55" y1="239.10" x2="482.55" y2="241.60" stroke="#111" stroke-width="1.4"/><line x1="499.31" y1="239.10" x2="499.31" y2="243.70" stroke="#111" stroke-width="1.4"/><text x="499.31" y="255.00" font-size="10.3" text-anchor="middle">8</text><line x1="516.07" y1="239.10" x2="516.07" y2="241.60" stroke="#111" stroke-width="1.4"/><line x1="532.83" y1="239.10" x2="532.83" y2="243.70" stroke="#111" stroke-width="1.4"/><text x="532.83" y="255.00" font-size="10.3" text-anchor="middle">10</text><line x1="549.59" y1="239.10" x2="549.59" y2="241.60" stroke="#111" stroke-width="1.4"/><line x1="566.35" y1="239.10" x2="566.35" y2="243.70" stroke="#111" stroke-width="1.4"/><text x="566.35" y="255.00" font-size="10.3" text-anchor="middle">12</text><line x1="583.11" y1="239.10" x2="583.11" y2="241.60" stroke="#111" stroke-width="1.4"/><line x1="599.86" y1="239.10" x2="599.86" y2="243.70" stroke="#111" stroke-width="1.4"/><text x="599.86" y="255.00" font-size="10.3" text-anchor="middle">14</text><line x1="616.62" y1="239.10" x2="616.62" y2="241.60" stroke="#111" stroke-width="1.4"/><line x1="633.38" y1="239.10" x2="633.38" y2="243.70" stroke="#111" stroke-width="1.4"/><text x="633.38" y="255.00" font-size="10.3" text-anchor="middle">16</text><line x1="650.14" y1="239.10" x2="650.14" y2="241.60" stroke="#111" stroke-width="1.4"/><line x1="666.90" y1="239.10" x2="666.90" y2="243.70" stroke="#111" stroke-width="1.4"/><text x="666.90" y="255.00" font-size="10.3" text-anchor="middle">18</text><line x1="377.20" y1="239.10" x2="382.00" y2="239.10" stroke="#111" stroke-width="1.4"/><text x="374.30" y="242.40" font-size="10.3" text-anchor="end">0</text><line x1="379.50" y1="215.85" x2="382.00" y2="215.85" stroke="#111" stroke-width="1.4"/><line x1="377.20" y1="192.60" x2="382.00" y2="192.60" stroke="#111" stroke-width="1.4"/><text x="374.30" y="195.90" font-size="10.3" text-anchor="end">50</text><line x1="379.50" y1="169.35" x2="382.00" y2="169.35" stroke="#111" stroke-width="1.4"/><line x1="377.20" y1="146.10" x2="382.00" y2="146.10" stroke="#111" stroke-width="1.4"/><text x="374.30" y="149.40" font-size="10.3" text-anchor="end">100</text><line x1="379.50" y1="122.85" x2="382.00" y2="122.85" stroke="#111" stroke-width="1.4"/><line x1="377.20" y1="99.60" x2="382.00" y2="99.60" stroke="#111" stroke-width="1.4"/><text x="374.30" y="102.90" font-size="10.3" text-anchor="end">150</text><line x1="379.50" y1="76.35" x2="382.00" y2="76.35" stroke="#111" stroke-width="1.4"/><line x1="377.20" y1="53.10" x2="382.00" y2="53.10" stroke="#111" stroke-width="1.4"/><text x="374.30" y="56.40" font-size="10.3" text-anchor="end">200</text><line x1="379.50" y1="29.85" x2="382.00" y2="29.85" stroke="#111" stroke-width="1.4"/><line x1="377.20" y1="6.60" x2="382.00" y2="6.60" stroke="#111" stroke-width="1.4"/><text x="374.30" y="9.90" font-size="10.3" text-anchor="end">250</text><text transform="translate(351.20 124.20) rotate(-90)" font-size="12.80" text-anchor="middle">Attenuation constant</text><text x="338.40" y="25.90" font-size="16.60">(b)</text>
<text x="181.7" y="267.9" font-size="12.3" text-anchor="middle">Frequency(GHz)</text>
<text x="519.1" y="269.5" font-size="12.3" text-anchor="middle">Frequency(GHz)</text>
<line x1="277" y1="13.70" x2="302.2" y2="13.70" stroke="#000" stroke-width="1.70"/><rect x="286.40" y="10.50" width="3.2" height="6.4" fill="#000"/><text transform="translate(304.40 18.00) scale(1.14 1)" style="font-family:'Liberation Serif',serif;font-weight:bold" font-size="13" stroke="#000" stroke-width="0.12">S</text><text transform="translate(311.90 24.00) scale(1.2 1)" style="font-family:'Liberation Serif',serif;font-weight:bold" font-size="7.2">p</text><line x1="277" y1="33.70" x2="302.2" y2="33.70" stroke="#1a1ad0" stroke-width="1.70"/><path d="M289.00 29.30 L290.10 29.30 L290.30 35.90 L285.80 35.90 Z" fill="#1010e0"/><text transform="translate(304.40 38.00) scale(1.14 1)" style="font-family:'Liberation Serif',serif;font-weight:bold" font-size="13" stroke="#000" stroke-width="0.12">S</text><text transform="translate(311.90 44.00) scale(1.2 1)" style="font-family:'Liberation Serif',serif;font-weight:bold" font-size="7.2">0</text><line x1="277" y1="53.60" x2="302.2" y2="53.60" stroke="#cc1420" stroke-width="1.70"/><path d="M290.20 49.70 C284.40 50.20 284.40 57.00 290.20 57.50 Q288.70 53.60 290.20 49.70 Z" fill="#f00018"/><text transform="translate(304.40 57.90) scale(1.14 1)" style="font-family:'Liberation Serif',serif;font-weight:bold" font-size="13" stroke="#000" stroke-width="0.12">S</text><text transform="translate(311.90 63.90) scale(1.2 1)" style="font-family:'Liberation Serif',serif;font-weight:bold" font-size="7.2">1.5</text><line x1="385" y1="15.70" x2="409.5" y2="15.70" stroke="#000" stroke-width="1.70"/><line x1="394.30" y1="12.30" x2="400.70" y2="12.30" stroke="#cdcdcd" stroke-width="1.1"/><rect x="394.40" y="15.10" width="6.2" height="3.6" fill="#000"/><text transform="translate(411.90 20.00) scale(1.14 1)" style="font-family:'Liberation Serif',serif;font-weight:bold" font-size="13" stroke="#000" stroke-width="0.10">S</text><text transform="translate(419.40 26.00) scale(1.2 1)" style="font-family:'Liberation Serif',serif;font-weight:bold" font-size="7.2">p</text><line x1="385" y1="35.60" x2="409.5" y2="35.60" stroke="#1a1ad0" stroke-width="1.70"/><path d="M395.50 34.10 L397.10 31.00 L398.90 34.10" fill="none" stroke="#d0d0f4" stroke-width="0.8"/><path d="M393.90 38.00 L395.90 34.60 L398.90 34.60 L401.10 38.00 Z" fill="#1010e0"/><text transform="translate(411.90 39.90) scale(1.14 1)" style="font-family:'Liberation Serif',serif;font-weight:bold" font-size="13" stroke="#000" stroke-width="0.10">S</text><text transform="translate(419.40 45.90) scale(1.2 1)" style="font-family:'Liberation Serif',serif;font-weight:bold" font-size="7.2">0</text><line x1="385" y1="55.40" x2="409.5" y2="55.40" stroke="#cc1420" stroke-width="1.70"/><path d="M394.10 54.40 A3.6 3.2 0 0 1 400.90 54.40" fill="none" stroke="#f8d4d4" stroke-width="0.8"/><path d="M393.60 55.40 A3.9 3.7 0 0 0 401.40 55.40 Z" fill="#f00018"/><text transform="translate(411.90 59.70) scale(1.14 1)" style="font-family:'Liberation Serif',serif;font-weight:bold" font-size="13" stroke="#000" stroke-width="0.10">S</text><text transform="translate(419.40 65.70) scale(1.2 1)" style="font-family:'Liberation Serif',serif;font-weight:bold" font-size="7.2">1.5</text>
<line x1="666.90" y1="7.20" x2="666.90" y2="238.50" stroke="#4a4a4a" stroke-width="2.2"/>
</g></svg></body></html>
